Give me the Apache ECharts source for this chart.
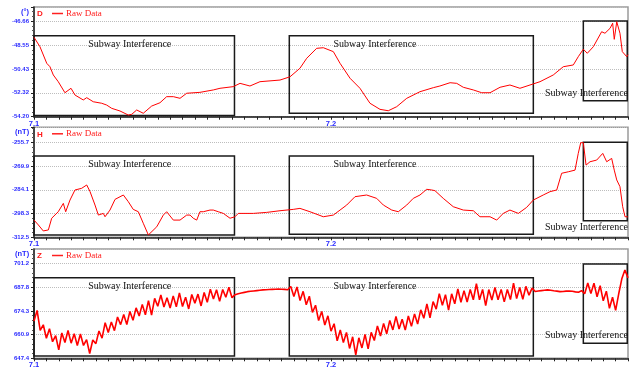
<!DOCTYPE html>
<html>
<head>
<meta charset="utf-8">
<script src="https://cdn.jsdelivr.net/npm/echarts@6/dist/echarts.min.js"></script>
<style>
html, body { margin: 0; padding: 0; background: #fff; }
#chart { width: 640px; height: 377px; }
</style>
</head>
<body>
<div id="chart"></div>
<script>
// x axis: hours counted from 7.1 00:00
const xLabelHours = [0, 24]
const xLabelTexts = ['7.1', '7.2']

// D (declination)
const dTickLabels = ['-54.20', '-52.32', '-50.43', '-48.55', '-46.66']
const dHours = [0, 0.48, 1.03, 1.29, 1.56, 1.96, 2.5, 2.99, 3.31, 3.98, 4.26, 4.79, 5.47, 5.87, 6.28, 6.95, 7.62, 7.9, 8.3, 8.83,
  9.51, 10.18, 10.72, 11.26, 11.8, 12.34, 13.41, 14.49, 15.03, 16.1, 16.65, 17.45, 18.26, 19.88, 20.69, 21.49, 22.04, 22.84, 23.38, 24.19,
  24.73, 25.54, 26.34, 27.15, 27.96, 28.63, 29.31, 30.12, 31.19, 32.27, 32.8, 33.62, 34.16, 34.69, 35.5, 36.18, 36.85, 37.66, 38.46, 39.27,
  40.08, 40.89, 41.96, 42.77, 43.58, 43.98, 44.39, 44.71, 45.2, 45.87, 46.14, 46.55, 46.76, 46.89, 47.09, 47.35, 47.54, 47.9, 48]
const dValues = [-47.94, -48.68, -49.99, -50.26, -50.91, -51.44, -52.31, -51.96, -52.49, -52.88, -52.70, -53.02, -53.14, -53.28, -53.54, -53.75, -54.07, -54.01, -53.67, -53.93,
  -53.36, -53.10, -52.62, -52.62, -52.75, -52.35, -52.28, -52.09, -51.96, -51.83, -51.57, -51.78, -51.44, -51.31, -51.05, -50.38, -49.59, -48.81, -48.76, -49.07,
  -49.99, -51.17, -51.96, -53.14, -53.62, -53.73, -53.41, -52.75, -52.23, -51.91, -51.78, -51.52, -51.57, -51.88, -52.09, -52.31, -52.31, -51.88, -51.70, -51.96,
  -51.70, -51.44, -50.91, -50.26, -50.12, -49.47, -48.88, -49.20, -48.68, -47.50, -47.62, -47.23, -46.83, -48.10, -46.71, -47.62, -49.07, -49.47, -49.30]
// boxes: [fromHour, toHour, low, high]
const dBoxes = [[0, 16.2, -54.1, -47.81], [20.63, 40.35, -53.93, -47.81], [44.39, 47.94, -52.94, -46.65]]

// H (horizontal intensity)
const hTickLabels = ['-312.5', '-298.3', '-284.1', '-269.9', '-255.7']
const hHours = [0, 0.35, 0.75, 1.16, 1.43, 1.96, 2.37, 2.56, 2.91, 3.31, 3.85, 4.26, 4.53, 4.93, 5.2, 5.6, 5.74, 6.14, 6.55, 7.22,
  7.62, 8.02, 8.43, 8.83, 9.24, 9.92, 10.45, 10.72, 11.26, 11.8, 12.34, 12.61, 12.87, 13.15, 13.41, 13.68, 14.22, 14.49, 14.89, 15.3,
  15.84, 16.24, 16.51, 17.72, 18.8, 19.88, 20.95, 21.49, 22.3, 23.38, 24.19, 24.73, 25.27, 25.94, 26.88, 27.69, 28.23, 28.91, 29.44, 30.12,
  30.65, 31.19, 31.73, 32.14, 32.4, 33.07, 33.88, 34.69, 35.5, 36.04, 36.85, 37.39, 37.92, 38.46, 39.14, 39.81, 40.35, 41.15, 41.7, 42.24,
  42.64, 43.18, 43.72, 43.98, 44.18, 44.39, 44.61, 44.93, 45.47, 45.96, 46.28, 46.68, 46.89, 47.09, 47.35, 47.57, 47.76, 47.94, 48]
const hValues = [-302.2, -305.1, -308.7, -308.1, -301.1, -297.2, -292.2, -297.2, -290.2, -284.2, -283.2, -281.2, -285.2, -293.2, -299.2, -298.2, -300.2, -296.2, -289.8, -287.2,
  -291.2, -295.8, -297.2, -304.1, -311.1, -306.2, -299.2, -297.2, -302.2, -302.2, -299.2, -299.2, -301.1, -302.2, -297.2, -297.2, -296.2, -296.2, -297.2, -298.2,
  -301.1, -300.2, -298.2, -298.2, -297.6, -296.6, -295.8, -295.2, -297.2, -300.2, -299.2, -296.2, -293.2, -288.2, -287.2, -289.2, -293.2, -296.2, -297.2, -293.2,
  -289.2, -287.2, -283.8, -284.2, -284.6, -289.2, -294.2, -296.2, -296.6, -300.2, -300.2, -302.2, -298.2, -296.2, -298.2, -294.6, -290.2, -287.2, -285.2, -284.2,
  -274.2, -273.3, -272.3, -262.3, -255.9, -255.9, -269.3, -267.3, -266.3, -262.3, -267.3, -265.3, -272.3, -278.2, -282.2, -294.2, -300.2, -300.2, -300.5]
const hBoxes = [[0, 16.2, -311.1, -263.9], [20.63, 40.35, -310.7, -263.9], [44.39, 47.94, -302.6, -255.7]]

// Z (vertical intensity), one reading every quarter hour from 7.1 00:00
const zStep = 0.25
const zTickLabels = ['647.4', '660.9', '674.3', '687.8', '701.2']
const zValues = [
  668.5, 674.6, 663.2, 666.4, 658.8, 664.2, 656.8, 660.2, 652.2, 661.8, 656.4, 663.2, 656.0, 661.3, 654.7, 661.2,
  654.7, 658.0, 650.1, 657.8, 655.7, 662.9, 658.8, 667.6, 662.0, 668.0, 663.1, 670.8, 666.5, 672.2, 666.6, 674.0,
  669.0, 676.0, 671.4, 678.0, 672.1, 680.1, 671.9, 681.4, 676.9, 683.3, 676.5, 681.7, 675.9, 682.8, 676.6, 684.5,
  676.8, 682.1, 675.4, 683.6, 678.7, 683.8, 677.1, 684.7, 679.2, 686.6, 681.0, 686.3, 679.8, 686.4, 682.0, 687.7,
  681.8,
  683.5, 684.0, 684.4, 684.8, 685.2, 685.4, 685.6, 685.8, 686.0, 686.2, 686.3, 686.4, 686.5, 686.6, 686.7, 686.6, 686.5, 686.3,
  688.1, 682.5, 687.9, 680.2, 685.4, 677.8, 682.6, 673.4, 677.5, 668.8, 674.0, 666.3, 671.5, 662.8, 667.0, 657.3,
  663.5, 656.3, 662.1, 653.0, 659.6, 649.3, 659.0, 653.3, 661.0, 652.7, 662.1, 657.5, 665.8, 660.0, 667.2, 661.3,
  668.9, 663.5, 671.2, 664.0, 669.6, 663.4, 671.4, 665.5, 672.6, 666.8, 674.9, 670.1, 678.3, 670.4, 679.6, 675.3,
  684.1, 677.5, 683.5, 674.7, 684.0, 678.3, 686.7, 679.2, 685.8, 679.3, 686.4, 680.6, 689.7, 680.6, 686.5, 677.3,
  686.4, 680.5, 687.6, 680.6, 686.5, 679.4, 686.4, 680.7, 690.0, 681.3, 687.6, 680.9, 688.2, 683.2, 687.2,
  685.3, 685.6, 685.8, 686.0, 686.2, 686.0, 685.7, 685.5, 685.2, 685.3, 685.5, 685.6, 685.4, 685.1, 684.9, 685.8,
  684.0, 690.1, 684.1, 690.0, 682.3, 688.6, 680.0, 685.5, 675.8, 682.0, 674.6, 684.0, 692.5, 697.5, 693.0]
const zHours = zValues.map((v, i) => i * zStep)
const zBoxes = [[0, 16.2, 648.7, 693.1], [20.63, 40.35, 648.7, 693.1], [44.39, 47.94, 655.9, 700.9]]

const panels = [
  { name: 'D', unit: '(°)', hours: dHours, values: dValues, ticks: dTickLabels, boxes: dBoxes, lineWidth: 1,
    min: -54.20, max: -45.55, interval: 1.885, top: 7, height: 109.7, lastBelow: false, lastOffset: -3 },
  { name: 'H', unit: '(nT)', hours: hHours, values: hValues, ticks: hTickLabels, boxes: hBoxes, lineWidth: 1,
    min: -312.5, max: -246.7, interval: 14.2, top: 127.3, height: 110, lastBelow: true, lastOffset: 1 },
  { name: 'Z', unit: '(nT)', hours: zHours, values: zValues, ticks: zTickLabels, boxes: zBoxes, lineWidth: 1.6,
    min: 647.4, max: 709.4, interval: 13.45, top: 249, height: 109.3, lastBelow: false, lastOffset: -4 }
]

const blue = '#2a2aff'
const red = '#ff1a1a'
const boxText = { color: '#111', fontSize: 10, fontFamily: 'Liberation Serif' }

function tickFormatter (p) {
  return function (v) {
    const i = Math.round((v - p.min) / p.interval)
    if (i >= 0 && i < p.ticks.length && Math.abs(v - (p.min + i * p.interval)) < p.interval * 0.01) {
      return p.ticks[i]
    }
    return ''
  }
}

function boxLabel (p, k) {
  if (k === 0) return Object.assign({ show: true, position: [55, 4], align: 'left', verticalAlign: 'top' }, boxText)
  if (k === 1) return Object.assign({ show: true, position: [45, 4], align: 'left', verticalAlign: 'top' }, boxText)
  return Object.assign({
    show: true,
    position: ['100%', '100%'],
    align: 'right',
    verticalAlign: p.lastBelow ? 'top' : 'bottom',
    offset: [0, p.lastOffset]
  }, boxText)
}

const mychart = echarts.init(document.getElementById('chart'))

const option = {
  animation: false,
  title: panels.flatMap((p) => [
    { text: p.unit, left: p.unit.length > 3 ? 15 : 21, top: p.top + 1, padding: 0,
      textStyle: { color: blue, fontSize: 7.5, fontWeight: 'bold', fontFamily: 'Liberation Sans' } },
    { text: p.name, left: 37, top: p.top + 3, padding: 0,
      textStyle: { color: red, fontSize: 8, fontWeight: 'bold', fontFamily: 'Liberation Sans' } }
  ]),
  legend: panels.map((p) => ({
    data: ['Raw Data'],
    icon: 'rect',
    left: 52,
    top: p.top + 2,
    padding: 0,
    itemWidth: 11,
    itemHeight: 1.5,
    itemStyle: { color: '#ff2020', borderWidth: 0 },
    textStyle: { color: red, fontSize: 9, fontFamily: 'Liberation Serif', padding: [0, 0, 0, -2] }
  })),
  grid: panels.map((p) => ({
    left: 34,
    width: 594,
    top: p.top,
    height: p.height,
    show: true,
    borderColor: '#9a9a9a',
    borderWidth: 1.5,
    backgroundColor: '#fff'
  })),
  xAxis: panels.map((p, i) => ({
    type: 'value',
    gridIndex: i,
    min: 0,
    max: 48,
    interval: 1,
    axisLine: { lineStyle: { color: '#222', width: 1.5 } },
    axisTick: { length: 3, lineStyle: { color: '#222' } },
    splitLine: { show: false },
    axisLabel: {
      margin: 3,
      color: blue,
      fontSize: 7.5,
      fontWeight: 'bold',
      fontFamily: 'Liberation Sans',
      formatter: (v) => {
        const k = xLabelHours.indexOf(v)
        return k >= 0 ? xLabelTexts[k] : ''
      }
    }
  })),
  yAxis: panels.map((p, i) => ({
    type: 'value',
    gridIndex: i,
    min: p.min,
    max: p.max,
    interval: p.interval,
    axisLine: { show: true, lineStyle: { color: '#222', width: 1.5 } },
    axisTick: { show: true, length: 3, lineStyle: { color: '#222' } },
    minorTick: { show: true, splitNumber: 5, length: 2, lineStyle: { color: '#555' } },
    splitLine: { show: true, lineStyle: { color: '#bdbdbd', type: 'dotted', width: 1 } },
    axisLabel: {
      margin: 5,
      color: blue,
      fontSize: 6,
      fontWeight: 'bold',
      fontFamily: 'Liberation Sans',
      formatter: tickFormatter(p)
    }
  })),
  series: panels.map((p, i) => ({
    name: 'Raw Data',
    type: 'line',
    xAxisIndex: i,
    yAxisIndex: i,
    symbol: 'none',
    lineStyle: { color: '#ff0000', width: p.lineWidth },
    itemStyle: { color: '#ff0000' },
    data: p.hours.map((h, j) => [h, p.values[j]]),
    markArea: {
      silent: true,
      itemStyle: { color: 'rgba(0,0,0,0)', borderColor: '#1a1a1a', borderWidth: 1.5 },
      data: p.boxes.map((b, k) => [
        { xAxis: b[0], yAxis: b[3], name: 'Subway Interference', label: boxLabel(p, k) },
        { xAxis: b[1], yAxis: b[2] }
      ])
    }
  }))
}

mychart.setOption(option)
</script>
</body>
</html>
